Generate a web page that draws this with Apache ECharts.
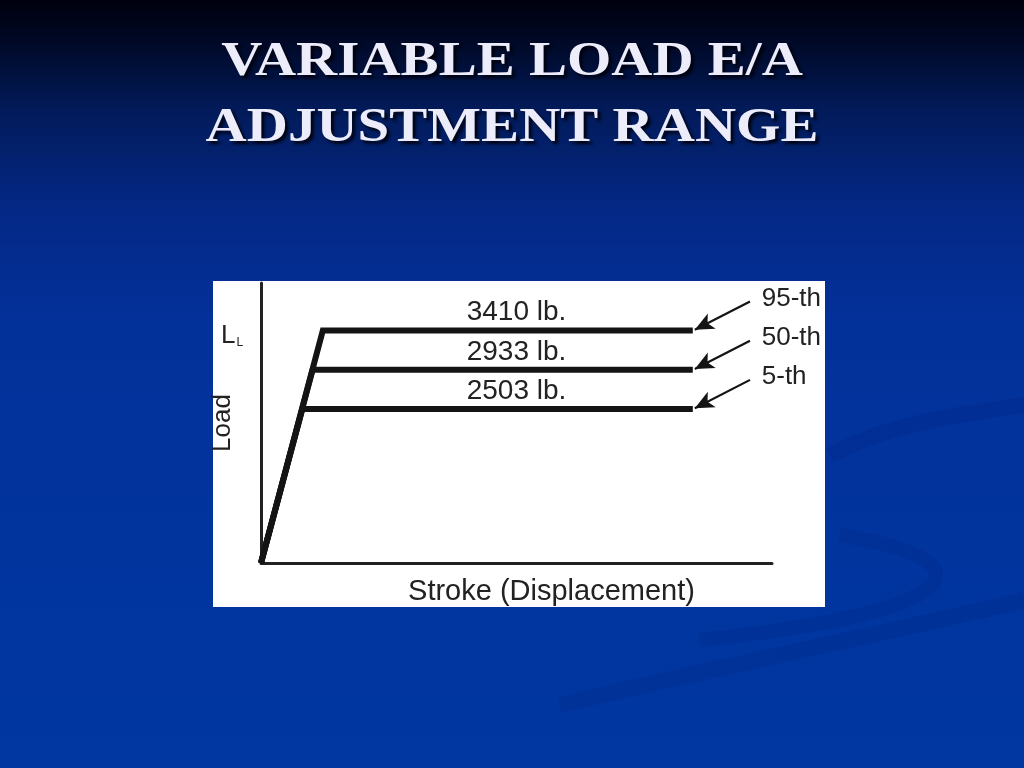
<!DOCTYPE html>
<html>
<head>
<meta charset="utf-8">
<script src="https://cdn.jsdelivr.net/npm/echarts@6/dist/echarts.min.js"></script>
<style>
  html, body { margin: 0; padding: 0; }
  #main { width: 1024px; height: 768px; }
</style>
</head>
<body>
<div id="main"></div>
<script>
// schematic units: x = % of stroke axis, y = % of load axis
const percentiles = ['95-th', '50-th', '5-th'];
const loadLabels = ['3410 lb.', '2933 lb.', '2503 lb.'];
const plateauLevel = [83, 69, 55];        // height of each plateau
const rampEnd = [12.1, 10.1, 8.1];        // stroke where the ramp reaches the plateau
const plateauEnd = [84.5, 84.5, 84.5];    // stroke where each plateau stops
const arrowTail = [11.2, 10.4];           // arrow start, relative to plateau end (dx, dy)
const titleLines = ['VARIABLE LOAD E/A', 'ADJUSTMENT RANGE'];

const chart = echarts.init(document.getElementById('main'))

const txt = '#222'
const font = '"Liberation Sans", Arial, sans-serif'

const series = percentiles.map((p, i) => {
    const lvl = plateauLevel[i]
    const end = plateauEnd[i]
    return {
        name: p,
        type: 'line',
        data: [[0, 0], [rampEnd[i], lvl], [end, lvl]],
        symbol: 'none',
        silent: true,
        lineStyle: { color: '#141414', width: 6, join: 'miter', cap: 'butt' },
        markLine: {
            silent: true,
            symbol: ['none', 'arrow'],
            symbolSize: [13, 19],
            lineStyle: { color: '#141414', width: 2.2, type: 'solid' },
            label: { show: false },
            data: [[
                { coord: [end + arrowTail[0], lvl + arrowTail[1]] },
                { coord: [end + 0.4, lvl + 0.3] }
            ]]
        },
        markPoint: {
            silent: true,
            symbol: 'circle',
            symbolSize: 0,
            data: [
                {   // load value above the plateau
                    coord: [50, lvl],
                    label: {
                        show: true, position: 'top', distance: 4,
                        formatter: loadLabels[i],
                        color: txt, fontSize: 28, fontFamily: font
                    }
                },
                {   // percentile name at the arrow tail
                    coord: [end + arrowTail[0] + 2.3, lvl + 11.4],
                    label: {
                        show: true, position: 'right', distance: 0,
                        formatter: p,
                        color: txt, fontSize: 26, fontFamily: font
                    }
                }
            ]
        }
    }
})

// the two title lines, each centred on the slide (slide is a bit stretched sideways)
const titleGraphics = titleLines.map((t, i) => ({
    type: 'text', left: 'center', top: 38 + i * 66, z: 10, silent: true,
    scaleY: 0.86,
    style: {
        text: t,
        fill: '#ececfa', font: 'bold 57px "Liberation Serif", "Times New Roman", serif',
        textShadowColor: 'rgba(0,0,10,0.9)', textShadowOffsetX: 3, textShadowOffsetY: 3, textShadowBlur: 3
    }
}))

const option = {
    backgroundColor: {
        type: 'linear', x: 0, y: 0, x2: 0, y2: 1,
        colorStops: [
            { offset: 0, color: '#00000e' },
            { offset: 0.05, color: '#000824' },
            { offset: 0.14, color: '#021a58' },
            { offset: 0.27, color: '#042886' },
            { offset: 0.42, color: '#03319a' },
            { offset: 1, color: '#0037a1' }
        ]
    },
    animation: false,
    graphic: [
        // faint swirls on the slide background
        { type: 'bezierCurve', z: -5, silent: true,
          shape: { x1: 830, y1: 455, cpx1: 900, cpy1: 420, cpx2: 960, cpy2: 415, x2: 1024, y2: 405 },
          style: { stroke: 'rgba(0,30,110,0.16)', lineWidth: 16, fill: null } },
        { type: 'bezierCurve', z: -5, silent: true,
          shape: { x1: 840, y1: 535, cpx1: 990, cpy1: 560, cpx2: 980, cpy2: 610, x2: 700, y2: 640 },
          style: { stroke: 'rgba(0,30,110,0.14)', lineWidth: 14, fill: null } },
        { type: 'bezierCurve', z: -5, silent: true,
          shape: { x1: 560, y1: 705, cpx1: 750, cpy1: 660, cpx2: 900, cpy2: 630, x2: 1024, y2: 600 },
          style: { stroke: 'rgba(0,30,110,0.16)', lineWidth: 16, fill: null } },
        ...titleGraphics,
        // white figure panel
        { type: 'rect', z: 0, silent: true,
          shape: { x: 213, y: 281, width: 612, height: 326 },
          style: { fill: '#ffffff' } },
        // L_L marker on the load axis
        { type: 'text', z: 10, silent: true, left: 221, top: 323,
          style: {
              text: '{a|L}{b|L}',
              rich: {
                  a: { fontSize: 26, fontFamily: font, fill: txt },
                  b: { fontSize: 12, fontFamily: font, fill: txt, padding: [14, 0, 0, 1] }
              }
          } }
    ],
    grid: { left: 261, right: 252, top: 283, bottom: 205, containLabel: false },
    xAxis: {
        type: 'value', min: 0, max: 100,
        name: 'Stroke (Displacement)', nameLocation: 'middle', nameGap: 14,
        nameTextStyle: { color: txt, fontSize: 29, fontFamily: font, padding: [0, 0, 0, 70] },
        axisLine: { show: true, lineStyle: { color: '#222', width: 3 } },
        axisTick: { show: false }, axisLabel: { show: false }, splitLine: { show: false }
    },
    yAxis: {
        type: 'value', min: 0, max: 100,
        name: 'Load', nameLocation: 'middle', nameGap: 25, nameRotate: 90,
        nameTextStyle: { color: txt, fontSize: 26, fontFamily: font },
        axisLine: { show: true, lineStyle: { color: '#222', width: 3 } },
        axisTick: { show: false }, axisLabel: { show: false }, splitLine: { show: false }
    },
    series: series
}

chart.setOption(option)
</script>
</body>
</html>
